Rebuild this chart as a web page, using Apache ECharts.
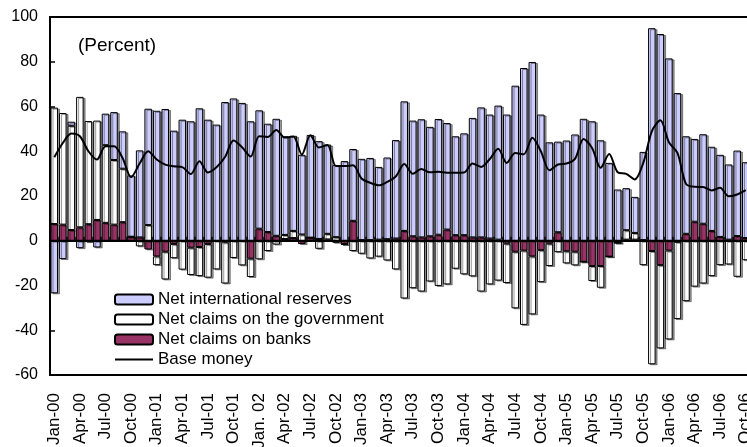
<!DOCTYPE html>
<html>
<head>
<meta charset="utf-8">
<script src="https://cdn.jsdelivr.net/npm/echarts@6/dist/echarts.min.js"></script>
<style>
  html, body { margin: 0; padding: 0; background: #fff; }
  #chart { width: 747px; height: 447px; }
</style>
</head>
<body>
<div id="chart"></div>
<script>
// months Jan-00 .. Oct-06
const months = [
  'Jan-00','Feb-00','Mar-00','Apr-00','May-00','Jun-00','Jul-00','Aug-00','Sep-00','Oct-00','Nov-00','Dec-00',
  'Jan-01','Feb-01','Mar-01','Apr-01','May-01','Jun-01','Jul-01','Aug-01','Sep-01','Oct-01','Nov-01','Dec-01',
  'Jan. 02','Feb-02','Mar-02','Apr-02','May-02','Jun-02','Jul-02','Aug-02','Sep-02','Oct-02','Nov-02','Dec-02',
  'Jan-03','Feb-03','Mar-03','Apr-03','May-03','Jun-03','Jul-03','Aug-03','Sep-03','Oct-03','Nov-03','Dec-03',
  'Jan-04','Feb-04','Mar-04','Apr-04','May-04','Jun-04','Jul-04','Aug-04','Sep-04','Oct-04','Nov-04','Dec-04',
  'Jan-05','Feb-05','Mar-05','Apr-05','May-05','Jun-05','Jul-05','Aug-05','Sep-05','Oct-05','Nov-05','Dec-05',
  'Jan-06','Feb-06','Mar-06','Apr-06','May-06','Jun-06','Jul-06','Aug-06','Sep-06','Oct-06'
];

const netBanks = [
  7.5, 7.2, 4.8, 6, 7.4, 9.3, 8, 7.2, 8.3, 1.8, 1.5, -3.9,
  -7, -4.9, -1.5, 0, -3.1, -2.8, -1.5, 0, -0.7, 0, 0, -8,
  5.4, 3.9, 2.2, 0.8, 1.2, -1.5, 1.4, 0.8, 0.6, -0.9, -1.5, 8.9,
  0.3, 0.3, 0.5, 0.7, 1, 4.4, 2, 1.5, 2, 2.7, 5, 2.5,
  2.5, 1.5, 1.5, 1, 0.5, -1.3, -4.9, -4.4, -7, -4.2, -1.3, 3.8,
  -4.7, -4.9, -9.4, -11.3, -11.3, -7.1, -1, 0.5, 0.5, 0.3, -4.6, -10.9,
  -4.4, -0.5, 3.1, 8.5, 7.6, 4.4, 1.7, 0.5, 2.1, 1.2
];

const netGov = [
  52, 49.9, 46.6, 58.3, 46.1, 44.4, 34.7, 28.9, 23.9, 0, -2.5, 7,
  -3.9, -12.4, -6.3, -12.9, -12.2, -13, -15, -12.8, -18.4, -7.7, -11, -8.2,
  -8.3, -4.6, -1.7, 1.8, 3.2, 2.8, 0, -3.6, 2.5, 1.6, -0.3, -4.6,
  -5.8, -7.9, -7.1, -8.8, -12.8, -25.8, -21.2, -22.7, -18.2, -20.2, -19.5, -12.5,
  -15, -15.9, -22.7, -19.5, -17.8, -17.6, -25.3, -33.2, -25.9, -14.3, -10, -5.1,
  -5.4, -6.1, 0, -6.7, -9.7, 0, 0, 4.2, 3, -10.9, -50.6, -37.2,
  -39.7, -34.5, -27, -20.5, -19.1, -15.8, -10.9, -10.6, -16.1, -8.7
];

const netReserves = [
  -23.5, -8.2, 1.8, -3.3, -0.6, -3, 14.1, 21.4, 16.7, 27.4, 38.9, 52,
  58.1, 58.9, 49.2, 54.1, 53.4, 59.2, 54.1, 51.9, 62, 63.6, 61.6, 53.4,
  52.9, 48.4, 52.3, 44.1, 42.5, 35.6, 45.9, 43.7, 39.9, 32.2, 35.6, 32.1,
  36.3, 36.7, 32.5, 36.5, 44, 57.9, 51.7, 52.8, 48.9, 51.7, 47.6, 44.2,
  45.5, 53.4, 58.1, 55.4, 59.9, 56.4, 69.3, 77.2, 79.9, 56.4, 44, 40.5,
  44.8, 47.5, 54.5, 53.4, 44.9, 34.8, 22.9, 18.8, 16.1, 39.4, 95, 92.4,
  81.5, 66, 43.6, 37, 40, 37.6, 36.7, 33.6, 38.2, 33.9
];

const baseMoney = [
  37.3, 43.7, 47.9, 46.7, 40, 36.3, 42.2, 42.2, 37, 28.4, 34.5, 40,
  36.3, 34, 33.3, 32.9, 29.8, 35.5, 30.5, 32.8, 37.4, 44.8, 41.8, 37.6,
  46.7, 46.4, 49.5, 46.1, 46.6, 38.5, 47.2, 41.7, 42.8, 33.4, 33.4, 33.7,
  27.8, 25.9, 24.8, 26.3, 28.7, 34.3, 29.9, 32.1, 30.6, 30.8, 30.4, 30.4,
  30.5, 34.5, 33, 36.4, 41.1, 34.8, 39.2, 38.7, 46, 40, 31.5, 34.1,
  34.5, 36.6, 45.5, 41.5, 32.6, 38.8, 30.6, 29.9, 27.4, 34.8, 48.9, 53.8,
  44, 39.3, 25.4, 24.1, 24, 22.5, 23.7, 19.9, 20.7, 22.6
];

const font = 'Liberation Sans, Arial, sans-serif';
const chart = echarts.init(document.getElementById('chart'));

// shared look of the bars (Excel style: black outline + grey shadow)
function barStyle(color) {
  return {
    color: color,
    borderColor: '#000',
    borderWidth: 1,
    shadowColor: 'rgba(0,0,0,0.4)',
    shadowOffsetX: 2,
    shadowOffsetY: 1
  };
}

const option = {
  animation: false,
  backgroundColor: '#fff',
  textStyle: { fontFamily: font, color: '#000' },
  title: {
    text: '(Percent)',
    left: 73,
    top: 31,
    textStyle: { fontFamily: font, fontSize: 19, fontWeight: 'normal', color: '#000' }
  },
  legend: {
    data: [
      'Net international reserves',
      'Net claims on the government',
      'Net claims on banks',
      // plain line in the legend, no marker
      { name: 'Base money', icon: 'path://M0,0 L38,0 L38,2 L0,2 Z', itemStyle: { color: '#000', borderWidth: 0, shadowColor: 'transparent' } }
    ],
    orient: 'vertical',
    left: 114,
    top: 291,
    padding: 0,
    itemWidth: 38,
    itemHeight: 10,
    itemGap: 3,
    textStyle: { fontFamily: font, fontSize: 17, color: '#000' }
  },
  grid: {
    left: 50,
    top: 17,
    right: -3,
    bottom: 72,
    outerBoundsMode: 'none',
    show: true,
    borderColor: '#000',
    borderWidth: 2
  },
  xAxis: [
    {
      type: 'category',
      data: months,
      position: 'bottom',
      axisLine: { onZero: false, lineStyle: { color: '#000', width: 2 } },
      axisTick: { show: false },
      axisLabel: {
        interval: 2,
        rotate: 90,
        margin: 18,
        fontFamily: font,
        fontSize: 17,
        color: '#000'
      }
    },
    {
      // category axis crossing at zero
      type: 'category',
      data: months,
      position: 'top',
      z: 5,
      axisLine: { onZero: true, lineStyle: { color: '#000', width: 2 } },
      axisTick: { show: true, interval: 0, length: 4, lineStyle: { color: '#000', width: 1.5 } },
      axisLabel: { show: false }
    }
  ],
  yAxis: {
    type: 'value',
    min: -60,
    max: 100,
    interval: 20,
    axisLine: { show: true, onZero: false, lineStyle: { color: '#000', width: 2 } },
    axisTick: { show: true, inside: true, length: 5, lineStyle: { color: '#000', width: 1.5 } },
    splitLine: { show: false },
    axisLabel: { margin: 12, fontFamily: font, fontSize: 16, color: '#000' }
  },
  series: [
    {
      name: 'Net claims on banks',
      type: 'bar',
      stack: 'total',
      barCategoryGap: '12%',
      itemStyle: barStyle('#993366'),
      data: netBanks
    },
    {
      name: 'Net claims on the government',
      type: 'bar',
      stack: 'total',
      itemStyle: barStyle('#ffffff'),
      data: netGov
    },
    {
      name: 'Net international reserves',
      type: 'bar',
      stack: 'total',
      itemStyle: barStyle('#ccccff'),
      data: netReserves
    },
    {
      name: 'Base money',
      type: 'line',
      z: 6,
      smooth: 0.3,
      symbol: 'none',
      lineStyle: { color: '#000', width: 2 },
      itemStyle: { color: '#000' },
      data: baseMoney
    }
  ]
};

chart.setOption(option);
</script>
</body>
</html>
